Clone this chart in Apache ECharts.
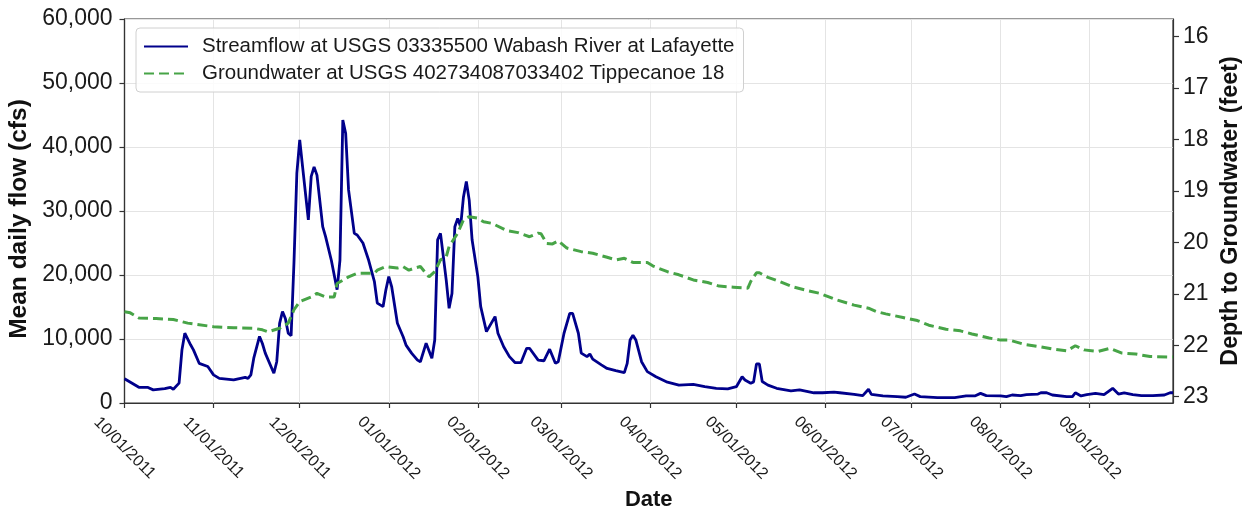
<!DOCTYPE html>
<html><head><meta charset="utf-8">
<script src="https://cdn.jsdelivr.net/npm/echarts@6/dist/echarts.min.js"></script>
<style>html,body{margin:0;padding:0;background:#fff}#c{width:1242px;height:512px}</style>
</head><body><div id="c"></div>
<script>
const flowDates = ['2011-10-01','2011-10-06','2011-10-09','2011-10-11','2011-10-15','2011-10-17','2011-10-18','2011-10-20','2011-10-21','2011-10-22','2011-10-24','2011-10-25','2011-10-27','2011-10-30',
'2011-11-01','2011-11-03','2011-11-08','2011-11-12','2011-11-13','2011-11-14','2011-11-15','2011-11-17','2011-11-18','2011-11-19','2011-11-22','2011-11-23','2011-11-24','2011-11-25','2011-11-26','2011-11-27','2011-11-28','2011-11-29','2011-11-30',
'2011-12-01','2011-12-02','2011-12-04','2011-12-05','2011-12-06','2011-12-07','2011-12-09','2011-12-10','2011-12-12','2011-12-14','2011-12-15','2011-12-16','2011-12-17','2011-12-18','2011-12-20','2011-12-21','2011-12-23','2011-12-25','2011-12-27','2011-12-28','2011-12-30','2011-12-31',
'2012-01-01','2012-01-02','2012-01-04','2012-01-06','2012-01-07','2012-01-09','2012-01-11','2012-01-12','2012-01-14','2012-01-16','2012-01-17','2012-01-18','2012-01-19','2012-01-21','2012-01-22','2012-01-23','2012-01-24','2012-01-25','2012-01-26','2012-01-27','2012-01-28','2012-01-29','2012-01-30',
'2012-02-01','2012-02-02','2012-02-04','2012-02-07','2012-02-08','2012-02-10','2012-02-12','2012-02-14','2012-02-16','2012-02-18','2012-02-19','2012-02-22','2012-02-24','2012-02-26','2012-02-28','2012-02-29',
'2012-03-02','2012-03-04','2012-03-05','2012-03-07','2012-03-08','2012-03-10','2012-03-11','2012-03-12','2012-03-15','2012-03-17','2012-03-20','2012-03-23','2012-03-24','2012-03-25','2012-03-26','2012-03-27','2012-03-29','2012-03-31',
'2012-04-03','2012-04-07','2012-04-11','2012-04-16','2012-04-20','2012-04-24','2012-04-28',
'2012-05-01','2012-05-03','2012-05-04','2012-05-06','2012-05-07','2012-05-08','2012-05-09','2012-05-10','2012-05-12','2012-05-15','2012-05-20','2012-05-23','2012-05-28','2012-05-31',
'2012-06-04','2012-06-06','2012-06-11','2012-06-14','2012-06-16','2012-06-17','2012-06-21','2012-06-26','2012-06-29',
'2012-07-02','2012-07-04','2012-07-10','2012-07-16','2012-07-20','2012-07-23','2012-07-25','2012-07-27',
'2012-08-01','2012-08-03','2012-08-05','2012-08-08','2012-08-10','2012-08-14','2012-08-15','2012-08-17','2012-08-19','2012-08-24','2012-08-26','2012-08-27','2012-08-29','2012-08-31',
'2012-09-03','2012-09-06','2012-09-09','2012-09-11','2012-09-13','2012-09-16','2012-09-19','2012-09-23','2012-09-27','2012-09-29','2012-09-30'];
const flowValues = [3800,2450,2450,2050,2250,2450,2150,3100,8300,10900,9100,8300,6200,5700,
4400,3850,3600,4000,3850,4400,7000,10400,9300,7800,4650,6450,12450,14300,13200,10900,10500,22000,35900,
41100,36900,28600,35400,36900,35600,27550,26000,22300,17700,22300,44200,42100,33300,26500,26250,25000,22300,18950,15600,15050,17700,
19750,18200,12450,10350,9050,7750,6700,6450,9350,7000,9850,25500,26500,19200,14800,17100,27550,28850,27550,32200,34600,31700,25500,
19750,15050,11150,13500,10900,8800,7250,6300,6300,8550,8550,6700,6600,8400,6200,6450,
10900,14000,14000,10900,7800,7250,7650,6850,5950,5400,5050,4750,6200,9850,10600,9850,6450,4900,
4100,3250,2800,2900,2550,2300,2200,
2550,4100,3600,3100,3300,6100,6100,3350,2800,2300,1900,2050,1600,1600,
1700,1600,1350,1150,2150,1350,1100,1000,900,
1400,1000,850,850,1100,1100,1500,1150,
1100,1000,1250,1150,1300,1400,1600,1600,1250,1000,1000,1600,1100,1300,
1500,1300,2300,1400,1600,1300,1150,1150,1250,1600,1600];

const gwDates = ['2011-10-01','2011-10-03','2011-10-06','2011-10-12','2011-10-18','2011-10-23',
'2011-11-01','2011-11-08','2011-11-15','2011-11-18','2011-11-20','2011-11-24','2011-11-27','2011-11-29',
'2011-12-01','2011-12-05','2011-12-07','2011-12-10','2011-12-13','2011-12-14','2011-12-18','2011-12-21','2011-12-27','2011-12-28','2011-12-31',
'2012-01-04','2012-01-06','2012-01-08','2012-01-10','2012-01-12','2012-01-15','2012-01-17','2012-01-19','2012-01-21','2012-01-22','2012-01-25','2012-01-27','2012-01-29',
'2012-02-01','2012-02-03','2012-02-06','2012-02-11','2012-02-15','2012-02-19','2012-02-22','2012-02-23','2012-02-25','2012-02-27','2012-02-29',
'2012-03-03','2012-03-08','2012-03-12','2012-03-17','2012-03-20','2012-03-23','2012-03-26','2012-03-31',
'2012-04-02','2012-04-07','2012-04-11','2012-04-16','2012-04-21','2012-04-25','2012-04-30',
'2012-05-05','2012-05-06','2012-05-08','2012-05-09','2012-05-12','2012-05-16','2012-05-21','2012-05-26','2012-05-30',
'2012-06-05','2012-06-11','2012-06-16','2012-06-19','2012-06-22','2012-06-28',
'2012-07-03','2012-07-07','2012-07-13','2012-07-18','2012-07-22','2012-07-28',
'2012-08-01','2012-08-04','2012-08-09','2012-08-15','2012-08-20','2012-08-24','2012-08-27','2012-08-30',
'2012-09-04','2012-09-08','2012-09-12','2012-09-17','2012-09-22','2012-09-30'];
const gwValues = [21.35,21.37,21.47,21.48,21.50,21.57,
21.64,21.66,21.67,21.70,21.74,21.67,21.57,21.31,
21.15,21.06,20.99,21.06,21.06,20.80,20.67,20.60,20.60,20.54,20.47,
20.50,20.47,20.54,20.50,20.47,20.67,20.57,20.34,20.28,20.08,19.82,19.56,19.50,
19.53,19.60,19.63,19.77,19.81,19.89,19.82,19.83,20.02,20.03,19.97,
20.11,20.18,20.21,20.29,20.34,20.31,20.39,20.39,
20.46,20.57,20.63,20.73,20.78,20.85,20.87,
20.89,20.76,20.59,20.59,20.68,20.76,20.87,20.94,20.99,
21.12,21.22,21.28,21.35,21.39,21.46,
21.52,21.61,21.69,21.72,21.78,21.86,
21.90,21.90,21.98,22.03,22.08,22.11,22.01,22.09,
22.12,22.06,22.15,22.17,22.22,22.23];

const monthTicks = ['2011-10-01','2011-11-01','2011-12-01','2012-01-01','2012-02-01','2012-03-01','2012-04-01','2012-05-01','2012-06-01','2012-07-01','2012-08-01','2012-09-01'];
const depthTicks = [16,17,18,19,20,21,22,23];

function ts(s){const p=s.split('-');return Date.UTC(+p[0],+p[1]-1,+p[2]);}
function pad(n){return n<10?'0'+n:''+n;}
function comma(v){return String(Math.round(v)).replace(/\B(?=(\d{3})+(?!\d))/g,',');}

const FONT = '"Liberation Sans", Arial, Helvetica, sans-serif';
const axisCol = '#333';
const gridCol = '#e4e4e4';
const txtCol = '#1a1a1a';

const chart = echarts.init(document.getElementById('c'), null, {renderer:'canvas'});
chart.setOption({
  animation:false,
  backgroundColor:'#fff',
  textStyle:{fontFamily:FONT},
  grid:{left:124.5, right:69, top:19, bottom:109, containLabel:false, outerBoundsMode:'none',
        show:true, borderColor:axisCol, borderWidth:1.2, backgroundColor:'transparent'},
  legend:{
    orient:'vertical', left:136, top:28,
    itemWidth:44, itemHeight:18, itemGap:6,
    padding:[8,9,8,7],
    itemStyle:{opacity:0},
    backgroundColor:'rgba(255,255,255,0.85)', borderColor:'#d0d0d0', borderWidth:1, borderRadius:4,
    textStyle:{fontSize:20.5, lineHeight:21, color:txtCol, fontFamily:FONT, padding:[0,0,0,9]}
  },
  xAxis:{
    type:'value', min:ts('2011-10-01'), max:ts('2012-09-30'),
    axisLine:{show:true, lineStyle:{color:axisCol, width:1.2}},
    axisTick:{show:true, customValues:monthTicks.map(ts), length:5, lineStyle:{color:axisCol, width:1.2}},
    axisLabel:{customValues:monthTicks.map(ts), hideOverlap:false, rotate:-45, align:'center', verticalAlign:'middle', margin:45, fontSize:16.2, color:txtCol, fontFamily:FONT,
      formatter:function(v){const d=new Date(v);return pad(d.getUTCMonth()+1)+'/'+pad(d.getUTCDate())+'/'+d.getUTCFullYear();}},
    splitLine:{show:true, lineStyle:{color:gridCol, width:1}},
    name:'Date', nameLocation:'middle', nameGap:85,
    nameTextStyle:{fontSize:22, fontWeight:'bold', color:'#111', fontFamily:FONT}
  },
  yAxis:[
    {type:'value', position:'left', min:0, max:60000, interval:10000,
     axisLine:{show:true, lineStyle:{color:axisCol, width:1.2}},
     axisTick:{show:true, length:5, lineStyle:{color:axisCol, width:1.2}},
     axisLabel:{fontSize:23, margin:12, color:txtCol, fontFamily:FONT, formatter:comma},
     splitLine:{show:true, lineStyle:{color:gridCol, width:1}},
     name:'Mean daily flow (cfs)', nameLocation:'middle', nameGap:92,
     nameTextStyle:{fontSize:24.5, fontWeight:'bold', color:'#111', fontFamily:FONT, padding:[0,16,0,0]}},
    {type:'value', position:'right', inverse:true, min:15.656, max:23.123,
     axisLine:{show:true, lineStyle:{color:axisCol, width:1.2}},
     axisTick:{show:true, customValues:depthTicks, length:6, lineStyle:{color:axisCol, width:1.2}},
     axisLabel:{customValues:depthTicks, fontSize:23, margin:10, color:txtCol, fontFamily:FONT},
     splitLine:{show:false},
     name:'Depth to Groundwater (feet)', nameLocation:'middle', nameGap:42,
     nameTextStyle:{fontSize:23.3, fontWeight:'bold', color:'#111', fontFamily:FONT}}
  ],
  series:[
    {name:'Streamflow at USGS 03335500 Wabash River at Lafayette', type:'line', yAxisIndex:0,
     data:flowDates.map(function(d,i){return [ts(d), flowValues[i]];}),
     symbol:'none', lineStyle:{color:'#00008B', width:2.8}, itemStyle:{color:'#00008B'}, z:2},
    {name:'Groundwater at USGS 402734087033402 Tippecanoe 18', type:'line', yAxisIndex:1,
     data:gwDates.map(function(d,i){return [ts(d), gwValues[i]];}),
     symbol:'none', lineStyle:{color:'#47a447', width:3, type:[10,5]}, itemStyle:{color:'#47a447'}, z:3}
  ]
});
</script></body></html>
